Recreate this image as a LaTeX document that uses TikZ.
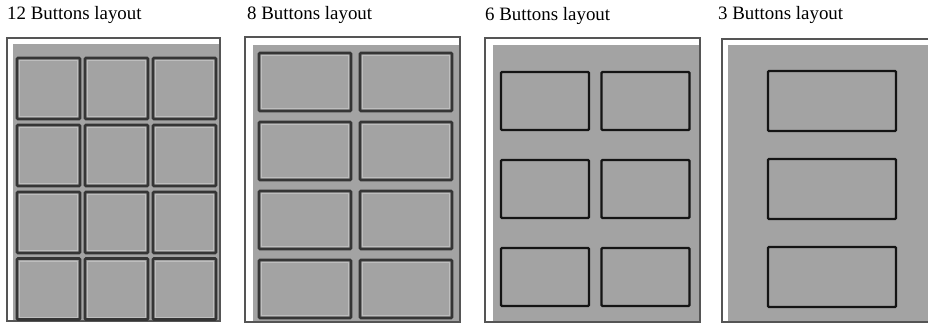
\documentclass[tikz,border=0pt]{standalone}
\usepackage{fontspec}
\setmainfont{Liberation Serif}
\definecolor{panelgray}{HTML}{A3A3A3}
\definecolor{framecol}{HTML}{555555}
\definecolor{btnAcol}{HTML}{353535}
\definecolor{btnBcol}{HTML}{141414}
\definecolor{hilite}{HTML}{BEBEBE}
\begin{document}
\begin{tikzpicture}[x=1pt,y=-1pt,
  title/.style={anchor=base west, inner sep=0pt, font=\fontsize{18.9}{22}\selectfont},
  paneledge/.style={draw=framecol, line width=1.1pt},
  btnA/.style={draw=btnAcol, line width=2.6pt, fill=panelgray, rounded corners=1pt, inner sep=0pt, outer sep=0pt},
  btnB/.style={draw=btnBcol, line width=2.2pt, fill=panelgray, rounded corners=1pt, inner sep=0pt, outer sep=0pt},
  inner/.style={draw=hilite, line width=0.7pt}]
\useasboundingbox (0,0) rectangle (928,323);
\fill[white] (0,0) rectangle (928,323);

% titles
\node[title] (t12) at (7,20) {12 Buttons layout};
\node[title] (t8) at (247,20) {8 Buttons layout};
\node[title] (t6) at (485,21) {6 Buttons layout};
\node[title] (t3) at (718,20) {3 Buttons layout};

% panel 1
\fill[white] (7,38) rectangle (220,321);
\fill[panelgray] (13,44) rectangle (220,321);
\draw[paneledge] (7,38) rectangle (220,321);
% panel 2
\fill[white] (245,37) rectangle (460,322);
\fill[panelgray] (253,45) rectangle (460,322);
\draw[paneledge] (245,37) rectangle (460,322);
% panel 3
\fill[white] (485,38) rectangle (700,322);
\fill[panelgray] (493,45) rectangle (700,322);
\draw[paneledge] (485,38) rectangle (700,322);
% panel 4
\fill[white] (722,39) rectangle (929,322);
\fill[panelgray] (728,45) rectangle (929,322);
\draw[paneledge] (929,39) -- (722,39) -- (722,322) -- (929,322);

% 12 buttons
\foreach \c/\cx in {1/48.5,2/116.5,3/184.5}{
  \foreach \r/\cy in {1/88.5,2/155.5,3/222.5,4/289}{
    \node[btnA, minimum width=63pt, minimum height=61pt] (a\c\r) at (\cx,\cy) {};
    \draw[inner] ([shift={(2.4,2.4)}]a\c\r.north west) rectangle ([shift={(-2.4,-2.4)}]a\c\r.south east);
  }
}
% 8 buttons
\foreach \c/\cx in {1/305,2/406}{
  \foreach \r/\cy in {1/82,2/151,3/220,4/289}{
    \node[btnA, minimum width=92pt, minimum height=58pt] (b\c\r) at (\cx,\cy) {};
    \draw[inner] ([shift={(2.4,2.4)}]b\c\r.north west) rectangle ([shift={(-2.4,-2.4)}]b\c\r.south east);
  }
}
% 6 buttons
\foreach \c/\cx in {1/545,2/645.5}{
  \foreach \r/\cy in {1/101,2/189,3/277}{
    \node[btnB, minimum width=88pt, minimum height=58pt] (c\c\r) at (\cx,\cy) {};
  }
}
% 3 buttons
\foreach \r/\cy in {1/101,2/189,3/277}{
  \node[btnB, minimum width=128pt, minimum height=60pt] (d\r) at (832,\cy) {};
}
\end{tikzpicture}
\end{document}
